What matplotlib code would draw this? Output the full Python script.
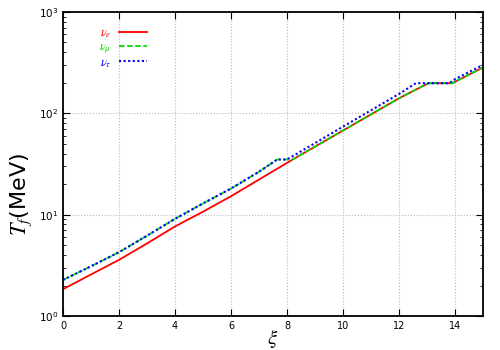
"""
Freeze-out temperature T_f vs xi for the three neutrino flavours
"""

import matplotlib
matplotlib.use('Agg')
import matplotlib.pyplot as plt
from matplotlib.ticker import LogLocator, NullFormatter, MultipleLocator

# nu_e
xi_e = [0, 1, 2, 3, 4, 5, 6, 7, 8, 8.2, 9, 10, 11, 12, 13.05, 13.9, 15]
tf_e = [1.84, 2.57, 3.58, 5.2, 7.65, 10.7, 15.2, 22.2, 32.4, 35, 46.9, 67.6, 97.5, 140.6, 198, 198, 283]

# nu_mu
xi_mu = [0, 1, 2, 3, 4, 5, 6, 7, 7.65, 8.2, 9, 10, 11, 12, 13.05, 13.9, 15]
tf_mu = [2.27, 3.1, 4.26, 6.2, 9.1, 12.9, 18.1, 26.5, 35, 35, 46.9, 67.6, 97.5, 140.6, 198, 198, 283]

# nu_tau
xi_tau = [0, 1, 2, 3, 4, 5, 6, 7, 7.65, 8.0, 9, 10, 11, 12, 12.6, 13.8, 14.0, 15]
tf_tau = [2.27, 3.1, 4.26, 6.2, 9.1, 12.9, 18.1, 26.5, 35, 35, 50.8, 73.8, 107, 155, 198, 198, 217, 300]

labels = [r'$\nu_e$', r'$\nu_\mu$', r'$\nu_\tau$']

plt.rcParams['mathtext.fontset'] = 'stix'

fig = plt.figure(figsize=(5, 3.5), dpi=100)
ax = fig.add_axes([0.126, 0.097, 0.84, 0.869])

l1, = ax.plot(xi_e, tf_e, '-', color='#ff0000', linewidth=1.3)
l2, = ax.plot(xi_mu, tf_mu, '--', color='#00dd00', linewidth=1.3, dashes=(3, 1.5))
l3, = ax.plot(xi_tau, tf_tau, ':', color='#0000ff', linewidth=1.5, dashes=(1, 1.2))

ax.set_yscale('log')
ax.set_xlim(0, 15)
ax.set_ylim(1, 1000)
ax.xaxis.set_major_locator(MultipleLocator(2))
ax.yaxis.set_major_locator(LogLocator(base=10))
ax.yaxis.set_minor_locator(LogLocator(base=10, subs=range(2, 10)))
ax.yaxis.set_minor_formatter(NullFormatter())

ax.grid(True, which='major', color='#b8b8b8', linestyle=':', linewidth=0.8)
ax.tick_params(which='both', direction='in', top=True, right=True)
ax.tick_params(which='major', length=5, labelsize=7)
ax.tick_params(which='minor', length=2.5)
for lab in ax.get_yticklabels():
    lab.set_fontsize(7.5)
for s in ax.spines.values():
    s.set_linewidth(1.3)

ax.set_xlabel(r'$\xi$', fontsize=15)
ax.xaxis.set_label_coords(0.5, -0.035)
ax.set_ylabel(r'$T_f$(MeV)', fontsize=16)
ax.yaxis.set_label_coords(-0.07, 0.4)

leg = ax.legend([l1, l2, l3], labels, loc='upper left', bbox_to_anchor=(0.06, 0.99),
                frameon=False, markerfirst=False, fontsize=9, handlelength=2.2,
                labelspacing=0.0, handletextpad=0.6)
for txt, line in zip(leg.get_texts(), [l1, l2, l3]):
    txt.set_color(line.get_color())

plt.savefig('out.png', dpi=100)
